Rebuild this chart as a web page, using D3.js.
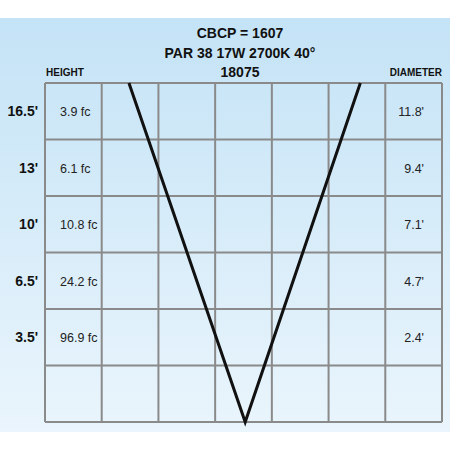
<!DOCTYPE html>
<html><head><meta charset="utf-8">
<script src="https://cdn.jsdelivr.net/npm/d3@7"></script>
<style>body{margin:0;background:#fff}</style>
</head><body>
<script>
var titleLines = ["CBCP = 1607", "PAR 38 17W 2700K 40°", "18075"];
var heights = ["16.5'", "13'", "10'", "6.5'", "3.5'"];
var footcandles = ["3.9 fc", "6.1 fc", "10.8 fc", "24.2 fc", "96.9 fc"];
var diameters = ["11.8'", "9.4'", "7.1'", "4.7'", "2.4'"];
var coneX = [1.48, 3.53, 5.56];   // in grid columns
var coneY = [0, 6, 0];            // in grid rows

var w = 450, h = 450;
var svg = d3.select("body").append("svg").attr("width", w).attr("height", h);
var defs = svg.append("defs");
var grad = defs.append("linearGradient").attr("id", "bg").attr("x1", 0).attr("y1", 0).attr("x2", 0).attr("y2", 1);
grad.append("stop").attr("offset", "0%").attr("stop-color", "#c4e3f6");
grad.append("stop").attr("offset", "100%").attr("stop-color", "#eaf5fc");
svg.append("rect").attr("x", 0).attr("y", 18).attr("width", w).attr("height", 414).attr("fill", "url(#bg)");

var x = d3.scaleLinear().domain([0, 7]).range([45, 442]);
var y = d3.scaleLinear().domain([0, 6]).range([83, 422]);
var font = "Liberation Sans, Arial, sans-serif";

var grid = svg.append("g").attr("stroke", "#8a8a8a").attr("stroke-width", 2);
grid.selectAll(".v").data(d3.range(8)).enter().append("line")
  .attr("x1", d => x(d)).attr("x2", d => x(d)).attr("y1", y(0)).attr("y2", y(6));
grid.selectAll(".h").data(d3.range(7)).enter().append("line")
  .attr("x1", x(0)).attr("x2", x(7)).attr("y1", d => y(d)).attr("y2", d => y(d));

svg.append("path").datum(coneX.map((d, i) => [d, coneY[i]]))
  .attr("fill", "none").attr("stroke", "#111").attr("stroke-width", 3)
  .attr("d", d3.line().x(d => x(d[0])).y(d => y(d[1])));

svg.selectAll(".title").data(titleLines).enter().append("text")
  .attr("x", 240).attr("y", (d, i) => 38 + i * 19.5).attr("text-anchor", "middle")
  .attr("font-family", font).attr("font-weight", "bold").attr("font-size", 14).attr("fill", "#111").text(d => d);
svg.append("text").attr("x", 46).attr("y", 76).attr("font-family", font).attr("font-weight", "bold")
  .attr("font-size", 10).attr("fill", "#111").text("HEIGHT");
svg.append("text").attr("x", 442).attr("y", 76).attr("text-anchor", "end").attr("font-family", font)
  .attr("font-weight", "bold").attr("font-size", 10).attr("fill", "#111").text("DIAMETER");

var rowY = i => y(i + 0.5) + 5;
svg.selectAll(".hgt").data(heights).enter().append("text")
  .attr("x", 38).attr("y", (d, i) => rowY(i)).attr("text-anchor", "end")
  .attr("font-family", font).attr("font-weight", "bold").attr("font-size", 14).attr("fill", "#111").text(d => d);
svg.selectAll(".fc").data(footcandles).enter().append("text")
  .attr("x", 60).attr("y", (d, i) => rowY(i)).attr("font-family", font).attr("font-size", 12.5)
  .attr("fill", "#222").text(d => d);
svg.selectAll(".dia").data(diameters).enter().append("text")
  .attr("x", 424).attr("y", (d, i) => rowY(i)).attr("text-anchor", "end").attr("font-family", font)
  .attr("font-size", 12.5).attr("fill", "#222").text(d => d);
</script>
</body></html>
